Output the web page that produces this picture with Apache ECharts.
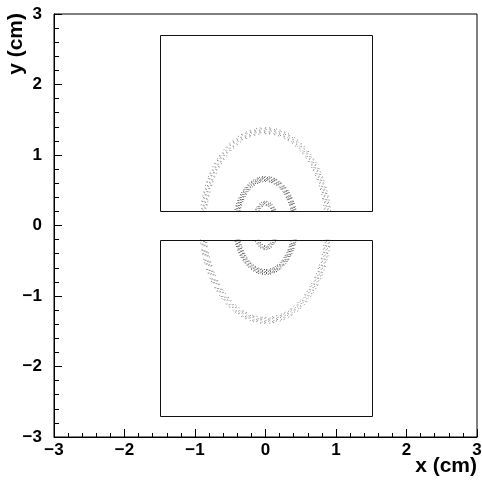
<!DOCTYPE html>
<html><head><meta charset="utf-8">
<script src="https://cdn.jsdelivr.net/npm/echarts@6/dist/echarts.min.js"></script>
<style>html,body{margin:0;padding:0;background:#fff}#c{width:482px;height:481px}</style>
</head><body><div id="c"></div>
<script>
// ---- data ----
const axisMin = -3, axisMax = 3;
const tickValues = [-3, -2, -1, 0, 1, 2, 3];
// detector rectangles (cm)
const rectX0 = [-1.5, -1.5];
const rectX1 = [1.5, 1.5];
const rectY0 = [0.2, -2.7];
const rectY1 = [2.7, -0.2];
// elliptical rings of hits (cm)
const ringCx = [0, 0, 0];
const ringCy = [0, 0, 0];
const ringRx = [0.89, 0.42, 0.16];
const ringRy = [1.345, 0.66, 0.315];

// ---- styles ----
const ringStyles = [
  {offsets: [-3,-2,-1,0,1,2,3], dash: [1,2.7,1,4.3,1,3.1,1,5.9], color: '#333', opacity: 0.6},
  {offsets: [-2.5,-1.5,-0.5,0.5,1.5,2.5], dash: [1,1.3,1,2.1,1,1.7,1,2.9], color: '#222', opacity: 0.8},
  {offsets: [-2,-1,0,1,2], dash: [1,1.3,1,2.1,1,1.7,1,2.9], color: '#222', opacity: 0.75}
];
const font = '"Liberation Sans", Arial, sans-serif';

const chart = echarts.init(document.getElementById('c'), null, {renderer: 'canvas'});

const rectData = rectX0.map((x, i) => [x, rectY0[i], rectX1[i], rectY1[i]]);
const ringData = ringCx.map((x, i) => [x, ringCy[i], ringRx[i], ringRy[i], i]);
// gap between the two rectangles (no hits recorded there)
const gapData = [[Math.min(...rectX0), rectY0[0], Math.max(...rectX1), rectY1[1]]];

function fmt(v) { return v < 0 ? '\u2212' + Math.abs(v) : String(v); }

chart.setOption({
  animation: false,
  grid: {left: 54, right: 5, top: 14, bottom: 44, containLabel: false, outerBoundsMode: 'none', show: true, borderColor: '#000', borderWidth: 1, backgroundColor: 'transparent'},
  xAxis: {
    type: 'value', min: axisMin, max: axisMax, interval: 1,
    axisLine: {show: true, onZero: false, lineStyle: {color: '#000', width: 1}},
    axisTick: {show: true, inside: true, length: 8, lineStyle: {color: '#000'}},
    minorTick: {show: true, splitNumber: 5, length: 4, lineStyle: {color: '#000'}},
    splitLine: {show: false},
    axisLabel: {formatter: fmt, color: '#000', fontFamily: font, fontWeight: 'bold', fontSize: 17, margin: 5, hideOverlap: false}
  },
  yAxis: {
    type: 'value', min: axisMin, max: axisMax, interval: 1,
    axisLine: {show: true, onZero: false, lineStyle: {color: '#000', width: 1}},
    axisTick: {show: true, inside: true, length: 8, lineStyle: {color: '#000'}},
    minorTick: {show: true, splitNumber: 5, length: 5, lineStyle: {color: '#000'}},
    splitLine: {show: false},
    axisLabel: {formatter: fmt, color: '#000', fontFamily: font, fontWeight: 'bold', fontSize: 17, margin: 12, hideOverlap: false}
  },
  graphic: [
    {type: 'text', right: 5, top: 456, style: {text: 'x (cm)', fill: '#000', font: 'bold 21px ' + font}},
    {type: 'text', x: 6, y: 13, rotation: Math.PI / 2, style: {text: 'y (cm)', fill: '#000', font: 'bold 21px ' + font, align: 'right', verticalAlign: 'top'}}
  ],
  series: [
    {
      type: 'custom', coordinateSystem: 'cartesian2d', z: 2, clip: true,
      data: ringData,
      renderItem: function (params, api) {
        const c = api.coord([api.value(0), api.value(1)]);
        const rx = api.size([api.value(2), 0])[0];
        const ry = api.size([0, api.value(3)])[1];
        const st = ringStyles[api.value(4)];
        const children = st.offsets.map((k, j) => ({
          type: 'ellipse',
          shape: {cx: c[0], cy: c[1], rx: rx + k, ry: ry + k},
          style: {fill: null, stroke: st.color, lineWidth: 1, lineDash: st.dash, lineDashOffset: j * 3.3, opacity: st.opacity}
        }));
        return {type: 'group', children: children};
      }
    },
    {
      type: 'custom', coordinateSystem: 'cartesian2d', z: 3,
      data: gapData,
      renderItem: function (params, api) {
        const p0 = api.coord([api.value(0) - 0.1, api.value(1)]);
        const p1 = api.coord([api.value(2) + 0.1, api.value(3)]);
        return {type: 'rect', shape: {x: p0[0], y: p0[1], width: p1[0] - p0[0], height: p1[1] - p0[1]}, style: {fill: '#fff', stroke: null}};
      }
    },
    {
      type: 'custom', coordinateSystem: 'cartesian2d', z: 4,
      data: rectData,
      renderItem: function (params, api) {
        const p0 = api.coord([api.value(0), api.value(3)]);
        const p1 = api.coord([api.value(2), api.value(1)]);
        return {type: 'rect', shape: {x: Math.round(p0[0]) + 0.5, y: Math.round(p0[1]) + 0.5, width: Math.round(p1[0] - p0[0]), height: Math.round(p1[1] - p0[1])}, style: {fill: null, stroke: '#111', lineWidth: 1}};
      }
    }
  ]
});
</script></body></html>
